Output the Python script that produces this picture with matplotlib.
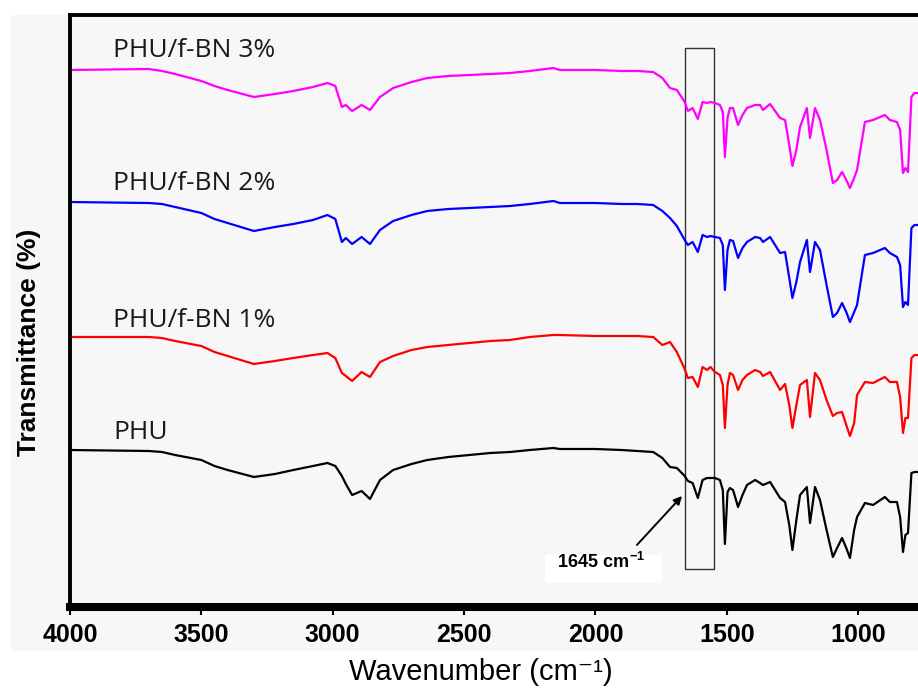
import matplotlib
matplotlib.use('Agg')
import matplotlib.pyplot as plt
from matplotlib.patches import Rectangle
from matplotlib.ticker import MultipleLocator

plt.rcParams['mathtext.fontset'] = 'custom'
plt.rcParams['mathtext.rm'] = 'Liberation Sans'
plt.rcParams['mathtext.bf'] = 'Liberation Sans:bold'

# wavenumber (cm-1) grid shared by all spectra
wavenumber = [4000, 3700, 3650, 3600, 3500, 3450, 3400, 3300, 3220, 3150,
              3075, 3020, 2990, 2965, 2950, 2926, 2890, 2858, 2820, 2770,
              2700, 2640, 2560, 2480, 2400, 2325, 2250, 2160, 2135, 2000,
              1900, 1840, 1780, 1745, 1716, 1690, 1660, 1648, 1630, 1610,
              1592, 1575, 1562, 1545, 1526, 1515, 1507, 1497, 1488, 1476,
              1457, 1440, 1423, 1392, 1373, 1362, 1335, 1297, 1278, 1262,
              1250, 1235, 1221, 1195, 1183, 1164, 1145, 1120, 1096, 1080,
              1061, 1045, 1031, 1015, 1004, 974, 943, 898, 879, 852,
              840, 829, 820, 810, 797, 785, 772]

# stacked transmittance (arbitrary offset units)
t_bn3 = [530, 531, 529, 526, 519, 514, 510, 503, 506, 509,
         513, 517, 514, 493, 495, 489, 495, 490, 503, 512,
         518, 522, 524, 525, 526, 527, 529, 532, 530, 530,
         529, 529, 528, 522, 512, 510, 498, 489, 492, 481,
         498, 497, 498, 497, 495, 488, 443, 482, 492, 492,
         475, 485, 492, 495, 495, 490, 496, 482, 480, 455,
         434, 450, 473, 492, 462, 492, 480, 450, 417, 420,
         428, 420, 412, 422, 430, 478, 480, 485, 480, 478,
         470, 427, 432, 428, 503, 507, 507]
t_bn2 = [398, 397, 396, 393, 387, 381, 377, 369, 373, 376,
         380, 385, 381, 358, 362, 356, 363, 356, 370, 379,
         385, 389, 391, 392, 393, 394, 396, 399, 397, 397,
         396, 396, 395, 389, 382, 374, 360, 355, 358, 348,
         365, 363, 364, 363, 362, 355, 310, 350, 360, 359,
         342, 352, 358, 363, 362, 358, 363, 347, 348, 322,
         302, 318, 338, 360, 328, 358, 350, 315, 283, 287,
         297, 288, 278, 288, 295, 345, 347, 352, 347, 343,
         335, 293, 298, 295, 372, 375, 375]
t_bn1 = [263, 263, 262, 259, 254, 248, 244, 236, 239, 242,
         245, 247, 242, 227, 224, 219, 228, 223, 238, 244,
         250, 253, 255, 257, 259, 260, 263, 265, 265, 264,
         264, 264, 263, 255, 258, 248, 231, 222, 223, 213,
         233, 230, 233, 228, 225, 215, 172, 215, 227, 225,
         210, 220, 225, 230, 228, 224, 228, 210, 216, 195,
         172, 195, 215, 220, 183, 227, 220, 200, 184, 187,
         188, 175, 164, 177, 205, 218, 217, 223, 218, 218,
         203, 167, 182, 182, 242, 245, 245]
t_phu = [150, 149, 148, 145, 140, 134, 130, 123, 126, 130,
         134, 137, 134, 124, 116, 105, 109, 101, 120, 130,
         136, 140, 143, 145, 147, 148, 150, 152, 151, 151,
         150, 149, 148, 142, 133, 132, 124, 119, 117, 102,
         120, 122, 122, 122, 120, 110, 56, 108, 112, 110,
         93, 105, 115, 120, 117, 115, 118, 102, 98, 75,
         50, 80, 105, 113, 77, 113, 100, 70, 43, 52,
         62, 52, 42, 70, 83, 97, 95, 103, 98, 98,
         83, 48, 65, 67, 127, 128, 128]

labels = ['PHU/f-BN 3%', 'PHU/f-BN 2%', 'PHU/f-BN 1%', 'PHU']
label_y = [543, 410, 273, 161]
series = [t_bn3, t_bn2, t_bn1, t_phu]
colors = ['#ff00ff', '#0000ff', '#ff0000', '#000000']

bg = '#f7f7f7'
fig = plt.figure(figsize=(9.18, 6.88), dpi=100, facecolor='white')
fig.patches.append(Rectangle((11/918, 37/688), 1, 636/688, transform=fig.transFigure,
                             facecolor=bg, edgecolor='none', zorder=-10))
ax = fig.add_axes([70/918, 81/688, 866.9/918, 592/688])
ax.set_facecolor(bg)

for y, c in zip(series, colors):
    ax.plot(wavenumber, y, color=c, lw=1.6, solid_joinstyle='round')

for lab, ly in zip(labels, label_y):
    ax.text(3836, ly, lab, fontsize=19, family=['Open Sans', 'DejaVu Sans'],
            color='#1a1a1a', va='baseline', ha='left')

# highlighted 1645 band
ax.add_patch(Rectangle((1548, 31), 110, 521, fill=False, edgecolor='#333333', lw=1.0))
ax.add_patch(Rectangle((1747, 17), 445, 28, facecolor='white', edgecolor='none', zorder=3))
ax.text(2146, 38, r'$\mathbf{1645\ cm^{-1}}$', fontsize=13, va='center', ha='left', zorder=4)
ax.annotate('', xy=(1663, 106), xytext=(1849, 53),
            arrowprops=dict(arrowstyle='-|>', color='black', lw=1.4, mutation_scale=12))

ax.set_xlim(4000, 700)
ax.set_ylim(-7, 585)
ax.set_yticks([])
ax.xaxis.set_major_locator(MultipleLocator(500))
ax.xaxis.set_minor_locator(MultipleLocator(250))
ax.tick_params(axis='x', which='major', direction='out', length=5.5, width=1.5, pad=6)
ax.tick_params(axis='x', which='minor', direction='out', length=3, width=1.2)
for t in ax.get_xticklabels():
    t.set_fontfamily('Liberation Sans')
    t.set_fontweight('bold')
    t.set_fontsize(18)

ax.spines['bottom'].set_linewidth(5.8)
ax.spines['left'].set_linewidth(2.8)
ax.spines['top'].set_linewidth(2.8)
ax.spines['right'].set_visible(False)

ax.set_ylabel('Transmittance (%)', fontsize=19, fontweight='bold', family='Liberation Sans')
ax.yaxis.set_label_coords(-28/848, 0.447)
fig.text(481/918, 1 - 672/688, 'Wavenumber (cm⁻¹)', fontsize=21, ha='center', va='center',
         family=['Liberation Sans', 'DejaVu Sans'])

fig.savefig('out.png', dpi=100, facecolor=fig.get_facecolor())
